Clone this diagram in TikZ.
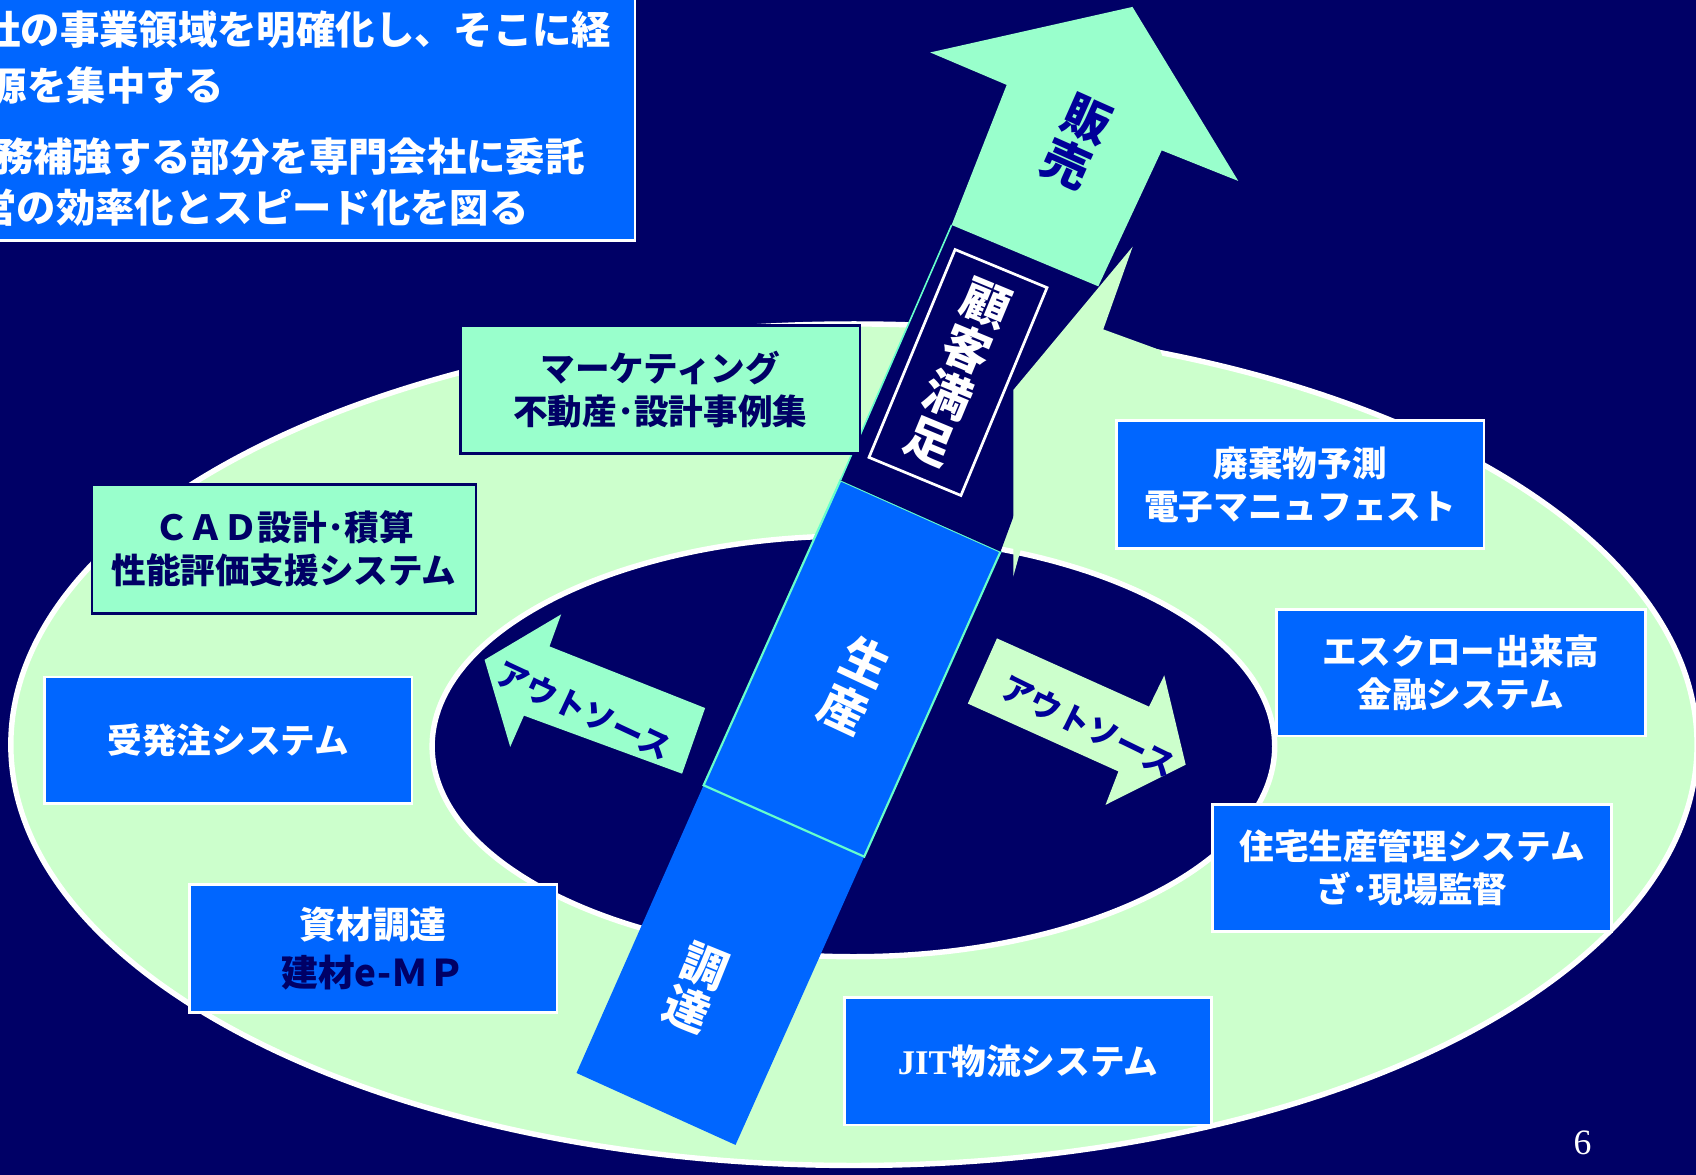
\documentclass[tikz,border=0pt]{standalone}
\usepackage{fontspec}
\setmainfont{Noto Sans CJK JP}
\newfontfamily\seriffont{Liberation Serif}
\definecolor{bgnavy}{HTML}{000066}
\definecolor{blueA}{HTML}{0066FF}
\definecolor{mint}{HTML}{99FFCC}
\definecolor{ringgreen}{HTML}{CCFFCC}
\definecolor{aqua}{HTML}{66FFCC}
\definecolor{tnavy}{HTML}{000099}
\begin{document}
\begin{tikzpicture}[x=1pt,y=-1pt,
  bluebox/.style={draw=white,fill=blueA,line width=2.5pt,inner sep=0pt,align=center,text=white,
     font=\bfseries\fontsize{32}{40}\selectfont},
  mintbox/.style={draw=bgnavy,fill=mint,line width=2.5pt,inner sep=0pt,align=center,text=bgnavy,
     font=\bfseries\fontsize{32}{40}\selectfont},
  goaltext/.style={inner sep=0pt,anchor=west,text=white,font=\bfseries\fontsize{36.4}{40}\selectfont},
  bandtext/.style={inner sep=0pt,align=center,font=\bfseries\fontsize{44}{46}\selectfont},
  outtext/.style={inner sep=0pt,text=tnavy,font=\bfseries\fontsize{29.3}{30}\selectfont}]
\clip (0,0) rectangle (1568,1086);
\fill[bgnavy] (0,0) rectangle (1568,1086);

% goal box (top left)
\node[draw=white,fill=blueA,line width=2.5pt,anchor=south east,minimum width=620pt,minimum height=250pt,inner sep=0pt] (goal) at (588.4,223.4) {};
\node[goaltext] (g1) at (-17.4,27) {社の事業領域を明確化し、そこに経};
\node[goaltext] (g2) at (-11.4,79) {源を集中する};
\node[goaltext] (g3) at (-5.7,145) {務補強する部分を専門会社に委託};
\node[goaltext] (g4) at (-21,192) {営の効率化とスピード化を図る};

% rings
\draw[fill=ringgreen,draw=white,line width=5pt] (789.5,688.5) ellipse [x radius=779.5pt, y radius=389pt];
\draw[fill=bgnavy,draw=white,line width=5pt] (789,690) ellipse [x radius=389.5pt, y radius=194.5pt];

% central band
\fill[blueA] (650.5,726) -- (799,792) -- (680,1058.5) -- (533,992) -- cycle;
\filldraw[fill=blueA,draw=aqua,line width=2pt] (777,444) -- (925,510) -- (799,792) -- (650.5,726) -- cycle;
\fill[bgnavy] (879.8,208) -- (1015.4,264.7) -- (925,510) -- (777,444) -- cycle;
\draw[aqua,line width=1.5pt] (879.8,208) -- (777,444);
\fill[mint] (879.8,208) -- (930.7,78.5) -- (860,48.5) -- (1047,6.4) -- (1144.8,167.3) -- (1074,139) -- (1015.4,264.7) -- cycle;

% spike of the ring
\fill[ringgreen] (936.8,533) -- (936.8,360.6) -- (1047.2,228) -- (1020,304.5) -- (1072.4,323.6) -- (1110,420) -- (970,495) -- (944,507) -- cycle;

% band labels
\node[bandtext,text=tnavy,rotate=-24] (hanbai) at (995.4,131.6) {販\\売};
\node[bandtext,text=white,draw=white,line width=2.5pt,rotate=-22.5,minimum width=92pt,minimum height=208pt] (kokyaku) at (885.7,344.4) {顧\\客\\満\\足};
\node[bandtext,text=white,rotate=-25,font=\bfseries\fontsize{44}{48}\selectfont] (seisan) at (790,633.5) {生\\産};
\node[bandtext,text=white,rotate=-22,font=\bfseries\fontsize{42}{43}\selectfont] (choutatsu) at (643.4,913.7) {調\\達};

% outsourcing arrows
\fill[mint] (448,610) -- (518.8,568) -- (508,597.6) -- (651.9,654.6) -- (630.6,715.3) -- (484.4,661.6) -- (471.7,690.5) -- cycle;
\fill[ringgreen] (921.7,590.2) -- (1062.3,653.3) -- (1076.4,624.4) -- (1096.2,707) -- (1022.1,744.1) -- (1034,713.2) -- (894.8,650.5) -- cycle;
\node[outtext,rotate=-25] (outL) at (540,657) {アウトソース};
\node[outtext,rotate=-26] (outR) at (1006,671) {アウトソース};

% boxes
\node[mintbox,minimum width=369pt,minimum height=118pt] (mkt) at (610.5,360) {マーケティング\\不動産･設計事例集};
\node[mintbox,minimum width=355pt,minimum height=119pt] (cad) at (262.5,507.5) {ＣＡＤ設計･積算\\性能評価支援システム};
\node[bluebox,minimum width=340pt,minimum height=117pt] (juhatchu) at (211,684.5) {受発注システム};
\node[bluebox,minimum width=340pt,minimum height=118pt,font=\bfseries\fontsize{34}{45}\selectfont] (shizai) at (345,877) {資材調達\\\textcolor{bgnavy}{建材e-ＭＰ}};
\node[bluebox,minimum width=339pt,minimum height=118pt] (jit) at (950.5,981) {{\seriffont\bfseries JIT}物流システム};
\node[bluebox,minimum width=340pt,minimum height=118pt] (haiki) at (1202,448) {廃棄物予測\\電子マニュフェスト};
\node[bluebox,minimum width=341pt,minimum height=117pt] (escrow) at (1350.5,622) {エスクロー出来高\\金融システム};
\node[bluebox,minimum width=369pt,minimum height=117pt] (jutaku) at (1305.5,802.5) {住宅生産管理システム\\ざ･現場監督};

% page number
\node[inner sep=0pt,text=white,font=\seriffont\fontsize{33}{36}\selectfont] (pnum) at (1463,1057) {6};
\end{tikzpicture}
\end{document}
